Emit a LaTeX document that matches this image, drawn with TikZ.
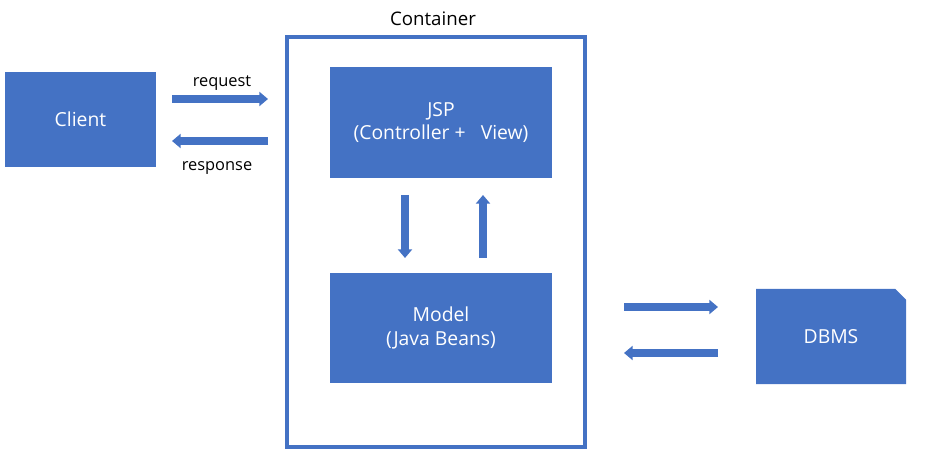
\documentclass[tikz,border=0pt]{standalone}
\usepackage{fontspec}
\setmainfont{Open Sans}
\usetikzlibrary{arrows.meta,shapes.misc}
\definecolor{boxblue}{HTML}{4472C4}
\begin{document}
\begin{tikzpicture}[x=0.75pt,y=-0.75pt,
	box/.style={rectangle,fill=boxblue,text=white,align=center,inner sep=0pt,
		font=\fontsize{14.5}{17.5}\selectfont},
	flow/.style={draw=boxblue,line width=5.5pt,-{Triangle[length=6.5pt,width=10.5pt]}},
	lbl/.style={font=\fontsize{12.3}{14}\selectfont}]
	\useasboundingbox (0,0) rectangle (934,466);
	\node (client) at (80.5,119.5) [box,minimum width=151*0.75pt,minimum height=95*0.75pt] {Client};
	\node (container) at (436,242) [rectangle,draw=boxblue,line width=2.5pt,minimum width=298*0.75pt,minimum height=410*0.75pt] {};
	\node (title) at (433,19) [font=\fontsize{14}{16}\selectfont] {Container};
	\node (jsp) at (441,122.5) [box,minimum width=222*0.75pt,minimum height=111*0.75pt] {JSP\\(Controller +\ \ \ View)};
	\node (model) at (441,328) [box,minimum width=222*0.75pt,minimum height=110*0.75pt] {Model\\(Java Beans)};
	\node (dbms) at (831,336.5) [box,chamfered rectangle,chamfered rectangle corners=north east,chamfered rectangle xsep=4pt,chamfered rectangle ysep=4pt,minimum width=150*0.75pt,minimum height=95*0.75pt] {DBMS};
	\coordinate (req1) at (172,99); \coordinate (req2) at (268,99);
	\coordinate (res1) at (268,141); \coordinate (res2) at (172,141);
	\coordinate (dn1) at (405,195); \coordinate (dn2) at (405,258);
	\coordinate (up1) at (483,258); \coordinate (up2) at (483,195);
	\coordinate (db1) at (624,307); \coordinate (db2) at (718,307);
	\coordinate (db3) at (718,353); \coordinate (db4) at (624,353);
	\draw [flow] (req1) -- (req2);
	\draw [flow] (res1) -- (res2);
	\draw [flow] (dn1) -- (dn2);
	\draw [flow] (up1) -- (up2);
	\draw [flow] (db1) -- (db2);
	\draw [flow] (db3) -- (db4);
	\node (reqlbl) at (222,83) [lbl] {request};
	\node (reslbl) at (217,168) [lbl] {response};
\end{tikzpicture}
\end{document}
